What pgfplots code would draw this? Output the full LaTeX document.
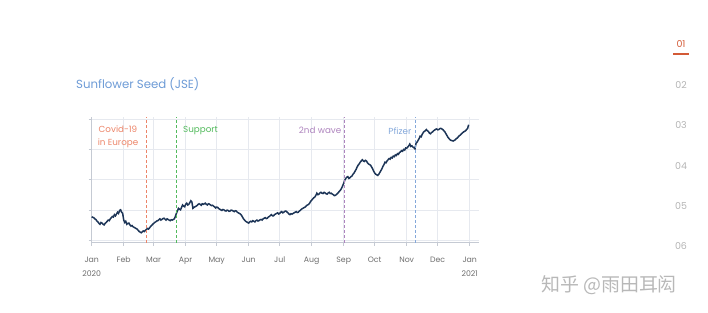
\documentclass[border=0pt]{standalone}
\usepackage{fontspec}
\setmainfont{Poppins}
\newfontfamily\cjk{Noto Sans CJK SC}
\usepackage{pgfplots}
\pgfplotsset{compat=1.18}
\definecolor{navy}{HTML}{1D3557}
\definecolor{gridc}{HTML}{E6E9EF}
\definecolor{axc}{HTML}{C5CAD3}
\definecolor{tickc}{HTML}{6E6E6E}
\definecolor{titlec}{HTML}{6D9BD6}
\definecolor{covidc}{HTML}{EC8468}
\definecolor{suppc}{HTML}{52BA5C}
\definecolor{wavec}{HTML}{AE84BE}
\definecolor{pfizc}{HTML}{84A8DA}
\definecolor{redc}{HTML}{D35A36}
\definecolor{numc}{HTML}{B4B4B4}
\definecolor{wmc}{HTML}{B8B8B8}
\pgfplotstableread{
d v
0 0.77
1 0.75
2 0.74
3 0.70
4 0.68
5 0.63
6 0.60
7 0.55
8 0.52
9 0.58
10 0.56
11 0.52
12 0.50
13 0.55
14 0.58
15 0.62
16 0.66
17 0.64
18 0.70
19 0.74
20 0.78
21 0.76
22 0.84
23 0.80
24 0.86
25 0.92
26 0.88
27 0.98
28 1.00
29 0.92
30 0.88
31 0.66
32 0.58
33 0.62
34 0.52
35 0.55
36 0.56
37 0.50
38 0.46
39 0.48
40 0.44
41 0.42
42 0.40
43 0.38
44 0.36
45 0.32
46 0.28
47 0.26
48 0.24
49 0.27
50 0.30
51 0.28
52 0.32
53 0.35
54 0.38
55 0.36
56 0.40
57 0.45
58 0.48
59 0.52
60 0.55
61 0.58
62 0.60
63 0.63
64 0.64
65 0.67
66 0.70
67 0.66
68 0.68
69 0.71
70 0.72
71 0.69
72 0.66
73 0.70
74 0.68
75 0.66
76 0.64
77 0.67
78 0.66
79 0.68
80 0.70
81 0.78
82 0.88
83 0.96
84 1.05
85 1.02
86 1.00
87 1.08
88 1.16
89 1.12
90 1.10
91 1.18
92 1.22
93 1.16
94 1.18
95 1.24
96 1.30
97 1.26
98 1.05
99 1.08
100 1.10
101 1.12
102 1.14
103 1.18
104 1.20
105 1.18
106 1.15
107 1.20
108 1.18
109 1.20
110 1.22
111 1.18
112 1.16
113 1.20
114 1.19
115 1.16
116 1.14
117 1.15
118 1.12
119 1.10
120 1.06
121 1.09
122 1.08
123 1.04
124 1.02
125 1.00
126 0.98
127 1.01
128 1.00
129 0.97
130 0.96
131 0.99
132 0.98
133 0.95
134 0.96
135 0.99
136 0.98
137 0.96
138 0.94
139 0.97
140 0.96
141 0.92
142 0.90
143 0.88
144 0.86
145 0.82
146 0.76
147 0.70
148 0.66
149 0.62
150 0.60
151 0.58
152 0.56
153 0.60
154 0.62
155 0.60
156 0.64
157 0.62
158 0.60
159 0.64
160 0.66
161 0.63
162 0.64
163 0.67
164 0.68
165 0.66
166 0.70
167 0.72
168 0.74
169 0.71
170 0.72
171 0.76
172 0.78
173 0.81
174 0.84
175 0.80
176 0.80
177 0.84
178 0.86
179 0.88
180 0.90
181 0.86
182 0.88
183 0.92
184 0.94
185 0.90
186 0.92
187 0.95
188 0.96
189 0.93
190 0.90
191 0.86
192 0.84
193 0.87
194 0.86
195 0.88
196 0.90
197 0.92
198 0.94
199 0.91
200 0.92
201 0.96
202 0.98
203 1.02
204 1.04
205 1.06
206 1.08
207 1.10
208 1.14
209 1.16
210 1.18
211 1.22
212 1.28
213 1.32
214 1.36
215 1.40
216 1.42
217 1.48
218 1.55
219 1.50
220 1.52
221 1.56
222 1.58
223 1.55
224 1.54
225 1.58
226 1.56
227 1.53
228 1.52
229 1.56
230 1.58
231 1.54
232 1.55
233 1.52
234 1.50
235 1.47
236 1.48
237 1.51
238 1.54
239 1.58
240 1.62
241 1.66
242 1.72
243 1.80
244 1.88
245 1.98
246 2.04
247 2.08
248 2.10
249 2.04
250 2.06
251 2.10
252 2.12
253 2.18
254 2.22
255 2.28
256 2.34
257 2.42
258 2.48
259 2.52
260 2.58
261 2.62
262 2.66
263 2.62
264 2.60
265 2.64
266 2.62
267 2.56
268 2.52
269 2.50
270 2.48
271 2.42
272 2.36
273 2.28
274 2.22
275 2.18
276 2.16
277 2.14
278 2.18
279 2.24
280 2.30
281 2.36
282 2.44
283 2.50
284 2.58
285 2.56
286 2.62
287 2.66
288 2.70
289 2.68
290 2.74
291 2.72
292 2.78
293 2.76
294 2.82
295 2.80
296 2.86
297 2.84
298 2.90
299 2.92
300 2.96
301 2.94
302 3.00
303 2.98
304 3.05
305 3.04
306 3.08
307 3.12
308 3.18
309 3.10
310 3.12
311 3.08
312 3.06
313 3.02
314 3.20
315 3.24
316 3.30
317 3.36
318 3.44
319 3.42
320 3.50
321 3.56
322 3.60
323 3.62
324 3.66
325 3.62
326 3.60
327 3.54
328 3.52
329 3.56
330 3.58
331 3.62
332 3.64
333 3.67
334 3.68
335 3.65
336 3.66
337 3.69
338 3.70
339 3.68
340 3.66
341 3.62
342 3.58
343 3.52
344 3.46
345 3.40
346 3.36
347 3.32
348 3.30
349 3.29
350 3.28
351 3.30
352 3.32
353 3.36
354 3.38
355 3.42
356 3.46
357 3.48
358 3.52
359 3.55
360 3.58
361 3.60
362 3.62
363 3.66
364 3.70
365 3.82
}\seed
\begin{document}
\begin{tikzpicture}
\useasboundingbox (0,0) rectangle (708bp,313bp);
\node[anchor=west, text=titlec, font=\fontsize{11.8}{13}\selectfont, inner sep=0pt] at (76bp,229bp) {Sunflower Seed (JSE)};
\begin{axis}[
  at={(91.7bp,70.3bp)}, anchor=south west,
  scale only axis, width=387.3bp, height=126bp,
  xmin=0, xmax=375, ymin=-0.09, ymax=4.086,
  axis x line=bottom, axis y line=left,
  axis line style={-, axc, line width=0.8bp},
  xtick={0,31,60,91,121,152,182,213,244,274,305,335,366},
  xticklabels={Jan\\2020,Feb,Mar,Apr,May,Jun,Jul,Aug,Sep,Oct,Nov,Dec,Jan\\2021},
  xticklabel style={align=center, text=tickc, font=\fontsize{7.8}{14}\selectfont, yshift=-8bp},
  ytick={0,1,2,3,4}, yticklabels={},
  tick align=outside, major tick length=3bp,
  tick style={axc, line width=0.6bp},
  grid=major, major grid style={gridc, line width=0.6bp},
  clip=false,
]
\addplot[navy, line width=1.5bp] table[x=d, y=v] {\seed};
\addplot[covidc, dash pattern=on 3bp off 2bp, line width=0.9bp] coordinates {(53,-0.09) (53,4.086)};
\addplot[suppc, dash pattern=on 3bp off 2bp, line width=0.9bp] coordinates {(82,-0.09) (82,4.086)};
\addplot[wavec, dash pattern=on 3bp off 2bp, line width=0.9bp] coordinates {(245,-0.09) (245,4.086)};
\addplot[pfizc, dash pattern=on 3bp off 2bp, line width=0.9bp] coordinates {(313,-0.09) (313,4.086)};
\end{axis}
\node[align=center, text=covidc, font=\fontsize{8.8}{12.6}\selectfont, inner sep=0pt] at (118bp,176bp) {Covid-19\\in Europe};
\node[anchor=west, text=suppc, font=\fontsize{8.8}{10}\selectfont, inner sep=0pt] at (183bp,182.3bp) {Support};
\node[anchor=east, text=wavec, font=\fontsize{8.8}{10}\selectfont, inner sep=0pt] at (341.5bp,182.3bp) {2nd wave};
\node[anchor=east, text=pfizc, font=\fontsize{8.8}{10}\selectfont, inner sep=0pt] at (411.5bp,182.3bp) {Pfizer};
\node[text=redc, font=\fontsize{9.5}{11}\selectfont, inner sep=0pt] at (681bp,269bp) {01};
\fill[redc] (673bp,258bp) rectangle (689bp,259.8bp);
\node[text=numc, font=\fontsize{9.5}{11}\selectfont, inner sep=0pt] at (681bp,228bp) {02};
\node[text=numc, font=\fontsize{9.5}{11}\selectfont, inner sep=0pt] at (681bp,188bp) {03};
\node[text=numc, font=\fontsize{9.5}{11}\selectfont, inner sep=0pt] at (681bp,147bp) {04};
\node[text=numc, font=\fontsize{9.5}{11}\selectfont, inner sep=0pt] at (681bp,107bp) {05};
\node[text=numc, font=\fontsize{9.5}{11}\selectfont, inner sep=0pt] at (681bp,66.5bp) {06};
\node[anchor=west, text=wmc, font=\cjk\fontsize{19}{22}\selectfont, inner sep=0pt] at (541bp,28bp) {知乎 @雨田耳闳};
\end{tikzpicture}
\end{document}
